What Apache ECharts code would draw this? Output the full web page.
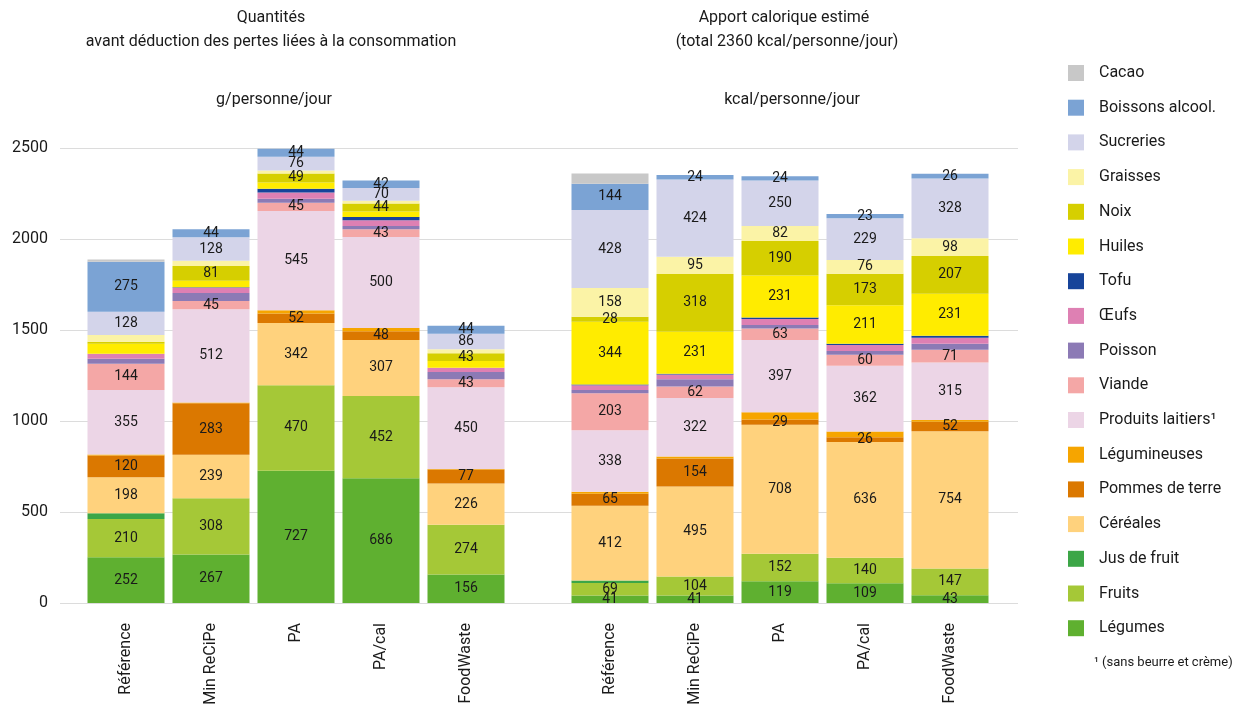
<!DOCTYPE html>
<html>
<head>
<meta charset="utf-8">
<script src="https://cdn.jsdelivr.net/npm/echarts@6/dist/echarts.min.js"></script>
<style>
html,body{margin:0;padding:0;background:#fff;}
#main{width:1243px;height:711px;}
</style>
</head>
<body>
<div id="main"></div>
<script>
// Categories (scenarios)
const categories = ['Référence', 'Min ReCiPe', 'PA', 'PA/cal', 'FoodWaste'];
const yTicks = [0, 500, 1000, 1500, 2000, 2500];

// Series names (bottom to top of stack)
const seriesNames = ['Légumes', 'Fruits', 'Jus de fruit', 'Céréales', 'Pommes de terre', 'Légumineuses',
  'Produits laitiers¹', 'Viande', 'Poisson', 'Œufs', 'Tofu', 'Huiles', 'Noix', 'Graisses',
  'Sucreries', 'Boissons alcool.', 'Cacao'];

// g/personne/jour
const legumes_g      = [252, 267, 727, 686, 156];
const fruits_g       = [210, 308, 470, 452, 274];
const jus_g          = [31, 0, 0, 0, 0];
const cereales_g     = [198, 239, 342, 307, 226];
const pommes_g       = [120, 283, 52, 48, 77];
const legumineuses_g = [5, 5, 18, 18, 3];
const laitiers_g     = [355, 512, 545, 500, 450];
const viande_g       = [144, 45, 45, 43, 43];
const poisson_g      = [27, 44, 22, 18, 40];
const oeufs_g        = [28, 29, 35, 31, 24];
const tofu_g         = [0, 3, 20, 18, 0];
const huiles_g       = [55, 35, 35, 30, 36];
const noix_g         = [10, 81, 49, 44, 43];
const graisses_g     = [37, 30, 16, 15, 22];
const sucreries_g    = [128, 128, 76, 70, 86];
const boissons_g     = [275, 44, 44, 42, 44];
const cacao_g        = [12, 0, 0, 0, 0];

// kcal/personne/jour
const legumes_k      = [41, 41, 119, 109, 43];
const fruits_k       = [69, 104, 152, 140, 147];
const jus_k          = [13, 0, 0, 0, 0];
const cereales_k     = [412, 495, 708, 636, 754];
const pommes_k       = [65, 154, 29, 26, 52];
const legumineuses_k = [11, 11, 40, 31, 10];
const laitiers_k     = [338, 322, 397, 362, 315];
const viande_k       = [203, 62, 63, 60, 71];
const poisson_k      = [18, 40, 20, 20, 32];
const oeufs_k        = [27, 27, 32, 33, 34];
const tofu_k         = [4, 3, 8, 8, 10];
const huiles_k       = [344, 231, 231, 211, 231];
const noix_k         = [28, 318, 190, 173, 207];
const graisses_k     = [158, 95, 82, 76, 98];
const sucreries_k    = [428, 424, 250, 229, 328];
const boissons_k     = [144, 24, 24, 23, 26];
const cacao_k        = [57, 0, 0, 0, 0];

const gData = [legumes_g, fruits_g, jus_g, cereales_g, pommes_g, legumineuses_g, laitiers_g, viande_g,
  poisson_g, oeufs_g, tofu_g, huiles_g, noix_g, graisses_g, sucreries_g, boissons_g, cacao_g];
const kData = [legumes_k, fruits_k, jus_k, cereales_k, pommes_k, legumineuses_k, laitiers_k, viande_k,
  poisson_k, oeufs_k, tofu_k, huiles_k, noix_k, graisses_k, sucreries_k, boissons_k, cacao_k];

const colors = ['#5fb030', '#a5c837', '#3ca647', '#ffd27d', '#db7800', '#f6a500',
  '#ecd5e6', '#f4a7a6', '#8c7ab5', '#de80b3', '#17449a', '#ffec00', '#d6cf00', '#fbf3a6',
  '#d3d4ea', '#7ba3d4', '#c8c8c8'];

// Series whose values are written on the bars
const labelledLeft = ['Légumes', 'Fruits', 'Céréales', 'Pommes de terre', 'Produits laitiers¹', 'Viande',
  'Noix', 'Sucreries', 'Boissons alcool.'];
const labelledRight = ['Légumes', 'Fruits', 'Céréales', 'Pommes de terre', 'Produits laitiers¹', 'Viande',
  'Huiles', 'Noix', 'Graisses', 'Sucreries', 'Boissons alcool.'];

const FONT = 'Roboto';

function makeSeries(data, axisIndex, labelled, stackName) {
  return seriesNames.map((name, i) => ({
    name: name,
    type: 'bar',
    stack: stackName,
    xAxisIndex: axisIndex,
    yAxisIndex: axisIndex,
    barWidth: 77,
    itemStyle: { color: colors[i] },
    label: {
      show: labelled.indexOf(name) >= 0,
      position: 'inside',
      color: '#1a1a1a',
      fontFamily: FONT,
      fontSize: 14,
      formatter: p => (p.value >= 20 ? String(p.value) : '')
    },
    emphasis: { disabled: true },
    data: data[i]
  }));
}

const catAxis = (gi) => ({
  type: 'category', gridIndex: gi, data: categories,
  axisLine: { show: false }, axisTick: { show: false },
  axisLabel: { rotate: 90, fontFamily: FONT, fontSize: 16, color: '#1a1a1a', margin: 20 }
});
const hiddenY = (gi) => ({
  type: 'value', gridIndex: gi, min: 0, max: 2500, interval: 500, show: false
});

const chart = echarts.init(document.getElementById('main'), null, { renderer: 'canvas' });
chart.setOption({
  backgroundColor: '#ffffff',
  animation: false,
  grid: [
    { left: 83.5, width: 425, top: 148, bottom: 108 },
    { left: 567.5, width: 425, top: 148, bottom: 108 },
    { left: 60, right: 225, top: 148, bottom: 108 }
  ],
  xAxis: [
    catAxis(0),
    catAxis(1),
    { type: 'value', gridIndex: 2, show: false, min: 0, max: 1 }
  ],
  yAxis: [
    hiddenY(0),
    hiddenY(1),
    {
      type: 'value', gridIndex: 2, min: yTicks[0], max: yTicks[yTicks.length - 1], interval: 500,
      axisLine: { show: false }, axisTick: { show: false },
      axisLabel: { fontFamily: FONT, fontSize: 16, color: '#1a1a1a', margin: 12, formatter: v => String(v) },
      splitLine: { show: true, lineStyle: { color: '#dcdcdc', width: 1 } }
    }
  ],
  legend: {
    orient: 'vertical',
    left: 1063,
    top: 60,
    itemWidth: 16,
    itemHeight: 16,
    itemGap: 18.7,
    icon: 'rect',
    selectedMode: false,
    textStyle: { fontFamily: FONT, fontSize: 16, color: '#1a1a1a', padding: [0, 0, 0, 10] },
    data: seriesNames.slice().reverse()
  },
  graphic: [
    { type: 'text', x: 271, y: 10, style: { text: 'Quantités', textAlign: 'center', fontFamily: FONT, fontSize: 16, fill: '#1a1a1a' } },
    { type: 'text', x: 271, y: 34, style: { text: 'avant déduction des pertes liées à la consommation', textAlign: 'center', fontFamily: FONT, fontSize: 16, fill: '#1a1a1a' } },
    { type: 'text', x: 274, y: 92, style: { text: 'g/personne/jour', textAlign: 'center', fontFamily: FONT, fontSize: 16, fill: '#1a1a1a' } },
    { type: 'text', x: 784, y: 10, style: { text: 'Apport calorique estimé', textAlign: 'center', fontFamily: FONT, fontSize: 16, fill: '#1a1a1a' } },
    { type: 'text', x: 787, y: 34, style: { text: '(total 2360 kcal/personne/jour)', textAlign: 'center', fontFamily: FONT, fontSize: 16, fill: '#1a1a1a' } },
    { type: 'text', x: 792, y: 92, style: { text: 'kcal/personne/jour', textAlign: 'center', fontFamily: FONT, fontSize: 16, fill: '#1a1a1a' } },
    { type: 'text', x: 1094, y: 656, style: { text: '¹ (sans beurre et crème)', fontFamily: FONT, fontSize: 13, fill: '#1a1a1a' } }
  ],
  series: [
    ...makeSeries(gData, 0, labelledLeft, 'g'),
    ...makeSeries(kData, 1, labelledRight, 'k'),
    { type: 'scatter', xAxisIndex: 2, yAxisIndex: 2, data: [], silent: true }
  ]
});
</script>
</body>
</html>
